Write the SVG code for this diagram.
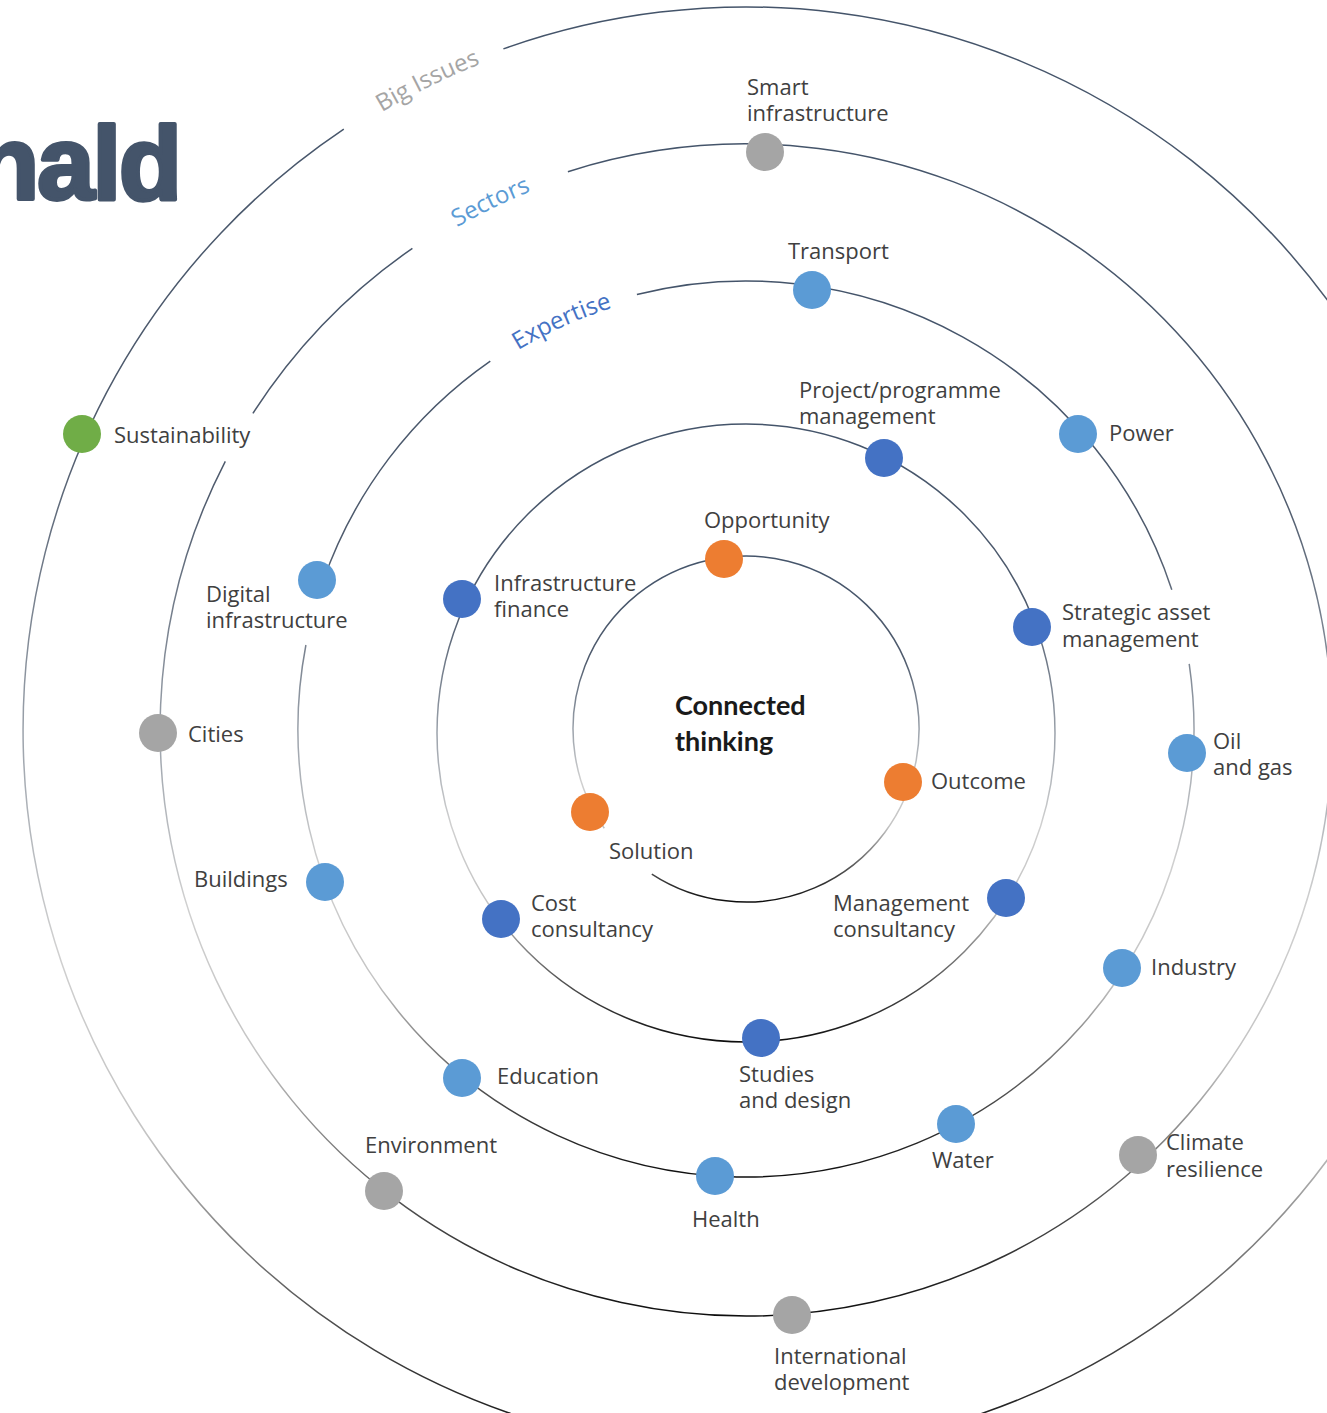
<svg xmlns="http://www.w3.org/2000/svg" width="1327" height="1413" viewBox="0 0 1327 1413">
<style>
.ring{fill:none;stroke:url(#ringGrad);stroke-width:1.5}
.lbl{font-family:"Open Sans","Noto Sans","Liberation Sans",sans-serif;font-size:22px;fill:#404040}
.arcl{font-family:"Open Sans","Noto Sans","Liberation Sans",sans-serif;font-size:24px}
.gray{fill:#A5A5A5}.lb{fill:#5B9BD5}.db{fill:#4472C4}.or{fill:#ED7D31}.gr{fill:#70AD47}
</style>
<defs>
<linearGradient id="ringGrad" x1="0" y1="0" x2="0" y2="1">
<stop offset="0" stop-color="#44546A"/>
<stop offset="0.3" stop-color="#4f5b6d"/>
<stop offset="0.5" stop-color="#9aa1aa"/>
<stop offset="0.65" stop-color="#d0d0d0"/>
<stop offset="0.78" stop-color="#c4c4c4"/>
<stop offset="0.9" stop-color="#555555"/>
<stop offset="1" stop-color="#0d0d0d"/>
</linearGradient>
<path id="tpBig" d="M239.0,223.0 A717,717 0 0 1 646.2,20.0"/>
<path id="tpSec" d="M335.9,319.9 A580,580 0 0 1 671.3,154.8"/>
<path id="tpExp" d="M450.3,400.5 A442,442 0 0 1 692.1,290.3"/>
</defs>
<rect width="1327" height="1413" fill="#ffffff"/>

<text x="180" y="199" text-anchor="end" font-family="Liberation Sans, Arial, sans-serif" font-weight="bold" font-size="103" letter-spacing="-2" fill="#44546A" stroke="#44546A" stroke-width="4" stroke-linejoin="round">nald</text>

<g id="connectors">
<path id="ring1" class="ring" d="M604.3,828.2 A173,173 0 1 1 651.8,874.1"/>
<circle id="ring2" class="ring" cx="746" cy="733" r="309"/>
<path id="ring3" class="ring" d="M322.9,581.7 A448,448 0 0 1 490.3,361.1 M636.9,294.5 A448,448 0 0 1 1171.8,589.8 M1189.2,663.9 A448,448 0 1 1 305.9,645"/>
<path id="ring4" class="ring" d="M252.9,413.4 A586,586 0 0 1 412.4,248.3 M567.9,171.7 A586,586 0 1 1 225.3,461.3"/>
<path id="ring5" class="ring" d="M503.4,48.9 A723,723 0 1 1 343.8,129.2"/>
</g>

<g id="ring-labels">
<text class="arcl" fill="#A5A5A5"><textPath href="#tpBig" startOffset="51%" text-anchor="middle">Big Issues</textPath></text>
<text class="arcl" fill="#5B9BD5"><textPath href="#tpSec" startOffset="51%" text-anchor="middle">Sectors</textPath></text>
<text class="arcl" fill="#4472C4"><textPath href="#tpExp" startOffset="50.5%" text-anchor="middle">Expertise</textPath></text>
</g>

<g id="center">
<text font-family="Lato, 'Liberation Sans', sans-serif" font-weight="bold" font-size="27" fill="#1a1a1a"><tspan x="675" y="715">Connected</tspan><tspan x="675" y="751">thinking</tspan></text>
</g>

<g id="node-smart-infrastructure"><circle class="gray" cx="765" cy="152" r="19"/><text class="lbl"><tspan x="747" y="95">Smart</tspan><tspan x="747" y="121">infrastructure</tspan></text></g>
<g id="node-transport"><circle class="lb" cx="812" cy="290" r="19"/><text class="lbl" x="788" y="259">Transport</text></g>
<g id="node-project-programme-management"><circle class="db" cx="884" cy="458" r="19"/><text class="lbl"><tspan x="799" y="398">Project/programme</tspan><tspan x="799" y="424">management</tspan></text></g>
<g id="node-power"><circle class="lb" cx="1078" cy="434" r="19"/><text class="lbl" x="1109" y="441">Power</text></g>
<g id="node-opportunity"><circle class="or" cx="724" cy="559" r="19"/><text class="lbl" x="704" y="528">Opportunity</text></g>
<g id="node-sustainability"><circle class="gr" cx="82" cy="434" r="19"/><text class="lbl" x="114" y="443">Sustainability</text></g>
<g id="node-infrastructure-finance"><circle class="db" cx="462" cy="599" r="19"/><text class="lbl"><tspan x="494" y="591">Infrastructure</tspan><tspan x="494" y="617">finance</tspan></text></g>
<g id="node-strategic-asset-management"><circle class="db" cx="1032" cy="627" r="19"/><text class="lbl"><tspan x="1062" y="620">Strategic asset</tspan><tspan x="1062" y="647">management</tspan></text></g>
<g id="node-digital-infrastructure"><circle class="lb" cx="317" cy="580" r="19"/><text class="lbl"><tspan x="206" y="602">Digital</tspan><tspan x="206" y="628">infrastructure</tspan></text></g>
<g id="node-cities"><circle class="gray" cx="158" cy="733" r="19"/><text class="lbl" x="188" y="742">Cities</text></g>
<g id="node-oil-and-gas"><circle class="lb" cx="1187" cy="753" r="19"/><text class="lbl"><tspan x="1213" y="749">Oil</tspan><tspan x="1213" y="775">and gas</tspan></text></g>
<g id="node-outcome"><circle class="or" cx="903" cy="782" r="19"/><text class="lbl" x="931" y="789">Outcome</text></g>
<g id="node-solution"><circle class="or" cx="590" cy="812" r="19"/><text class="lbl" x="609" y="859">Solution</text></g>
<g id="node-buildings"><circle class="lb" cx="325" cy="882" r="19"/><text class="lbl" x="194" y="887">Buildings</text></g>
<g id="node-cost-consultancy"><circle class="db" cx="501" cy="919" r="19"/><text class="lbl"><tspan x="531" y="911">Cost</tspan><tspan x="531" y="937">consultancy</tspan></text></g>
<g id="node-management-consultancy"><circle class="db" cx="1006" cy="898" r="19"/><text class="lbl"><tspan x="833" y="911">Management</tspan><tspan x="833" y="937">consultancy</tspan></text></g>
<g id="node-industry"><circle class="lb" cx="1122" cy="968" r="19"/><text class="lbl" x="1151" y="975">Industry</text></g>
<g id="node-studies-and-design"><circle class="db" cx="761" cy="1038" r="19"/><text class="lbl"><tspan x="739" y="1082">Studies</tspan><tspan x="739" y="1108">and design</tspan></text></g>
<g id="node-education"><circle class="lb" cx="462" cy="1078" r="19"/><text class="lbl" x="497" y="1084">Education</text></g>
<g id="node-environment"><circle class="gray" cx="384" cy="1191" r="19"/><text class="lbl" x="365" y="1153">Environment</text></g>
<g id="node-water"><circle class="lb" cx="956" cy="1124" r="19"/><text class="lbl" x="932" y="1168">Water</text></g>
<g id="node-climate-resilience"><circle class="gray" cx="1138" cy="1155" r="19"/><text class="lbl"><tspan x="1166" y="1150">Climate</tspan><tspan x="1166" y="1177">resilience</tspan></text></g>
<g id="node-health"><circle class="lb" cx="715" cy="1176" r="19"/><text class="lbl" x="692" y="1227">Health</text></g>
<g id="node-international-development"><circle class="gray" cx="792" cy="1315" r="19"/><text class="lbl"><tspan x="774" y="1364">International</tspan><tspan x="774" y="1390">development</tspan></text></g>
</svg>
